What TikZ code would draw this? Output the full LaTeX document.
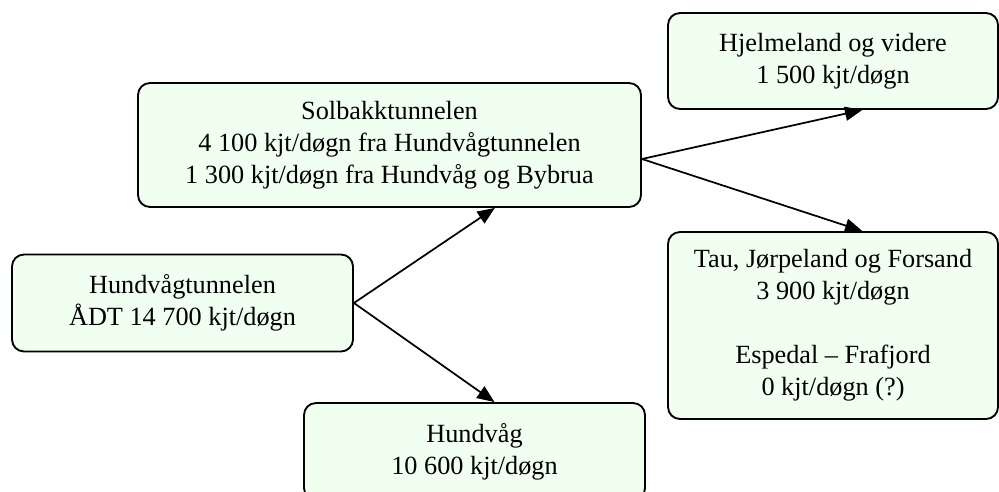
\documentclass[tikz,border=0pt]{standalone}
\usepackage{fontspec}
\setmainfont{Liberation Serif}
\usetikzlibrary{arrows.meta,positioning}
\definecolor{boxfill}{HTML}{F0FFF0}
\tikzset{
  trafficbox/.style={draw, line width=1.4pt, rounded corners=9pt, fill=boxfill, align=center,
    font=\fontsize{19.7}{24}\selectfont, inner sep=0pt},
  flow/.style={line width=1.3pt, -{Triangle[length=13pt,width=10.5pt]}}
}
\begin{document}
\begin{tikzpicture}[x=0.75pt, y=-0.75pt]
		\useasboundingbox (0,0) rectangle (999,492);
		\clip (0,0) rectangle (999,492);
		\node [trafficbox, minimum width=255.75pt, minimum height=72.75pt] (tunnel) at (182.5,303) {Hundvågtunnelen\\ÅDT 14 700 kjt/døgn};
		\node [trafficbox, minimum width=377.25pt, minimum height=93pt] (solbakk) at (389.5,145) {Solbakktunnelen\\4 100 kjt/døgn fra Hundvågtunnelen\\1 300 kjt/døgn fra Hundvåg og Bybrua};
		\node [trafficbox, minimum width=255.75pt, minimum height=72.75pt] (hundvag) at (474.5,451.5) {Hundvåg\\10 600 kjt/døgn};
		\node [trafficbox, minimum width=247.5pt, minimum height=72pt] (hjelm) at (833,61) {Hjelmeland og videre\\1 500 kjt/døgn};
		\node [trafficbox, minimum width=247.5pt, minimum height=140.25pt] (tau) at (833,325.5) {Tau, Jørpeland og Forsand\\3 900 kjt/døgn\\[24pt]Espedal – Frafjord\\0 kjt/døgn (?)};
		\draw [flow] (tunnel.east) -- ([xshift=79pt]solbakk.south);
		\draw [flow] (tunnel.east) -- ([xshift=15pt]hundvag.north);
		\draw [flow] ([yshift=-10.5pt]solbakk.east) -- ([xshift=22pt]hjelm.south);
		\draw [flow] ([yshift=-10.5pt]solbakk.east) -- ([xshift=22pt]tau.north);
	\end{tikzpicture}
\end{document}
